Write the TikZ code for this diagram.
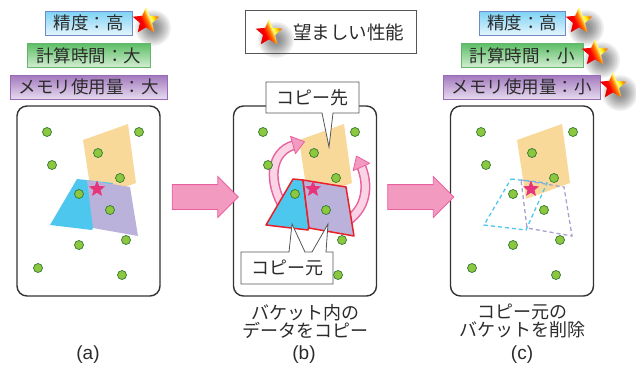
\documentclass[tikz,border=0pt]{standalone}
\usepackage{fontspec}
\setmainfont{Liberation Sans}
\newfontfamily\jp{Noto Sans CJK JP}
\usetikzlibrary{shapes.geometric,shapes.arrows,calc}
\definecolor{dotg}{HTML}{8DC63F}
\definecolor{dotd}{HTML}{2F7A32}
\definecolor{framec}{HTML}{333333}
\definecolor{orq}{HTML}{F8D99A}
\definecolor{blq}{HTML}{4EC7EF}
\definecolor{puq}{HTML}{BAB2DA}
\definecolor{pud}{HTML}{A99FD0}
\definecolor{starpk}{HTML}{E8347A}
\definecolor{redl}{HTML}{E8202A}
\definecolor{arrf}{HTML}{F39AC1}
\definecolor{arrd}{HTML}{E9609F}
\definecolor{arrl}{HTML}{FAD3E4}
\definecolor{callc}{HTML}{555555}
\definecolor{txt}{HTML}{2B2B2B}
\definecolor{bltop}{HTML}{7CD2F4}\definecolor{blbot}{HTML}{E4F5FC}\definecolor{blbd}{HTML}{7189C9}
\definecolor{grtop}{HTML}{5DBE66}\definecolor{grbot}{HTML}{D3EED2}\definecolor{grbd}{HTML}{63B66B}
\definecolor{prtop}{HTML}{A178BD}\definecolor{prbot}{HTML}{E7DAEF}\definecolor{prbd}{HTML}{9A6BB5}
\pgfdeclarehorizontalshading{starshade}{100bp}{color(0bp)=(red!85!black); color(25bp)=(red!85!black); color(42bp)=(red); color(52bp)=(orange); color(58bp)=(yellow!50!white); color(64bp)=(yellow!80!orange); color(70bp)=(orange); color(75bp)=(orange!85!red); color(100bp)=(orange!85!red)}
\begin{document}
\begin{tikzpicture}[x=1pt,y=-1pt,
  dot/.style={circle,fill=dotg,draw=dotd,line width=0.7pt,minimum size=9pt,inner sep=0pt},
  pstar/.style={star,star points=5,star point ratio=2.3,fill=starpk,minimum size=17pt,inner sep=0pt},
  gstar/.style={star,star points=5,star point ratio=2.2,shading=starshade,shading angle=25,minimum size=28pt,inner sep=0pt},
  panel/.style={draw=framec,line width=1.4pt,rounded corners=10pt,minimum width=143pt,minimum height=190pt,inner sep=0pt},
  lbox/.style={line width=0.8pt,minimum height=24pt,inner sep=0pt,font=\jp\fontsize{17.5}{20}\selectfont,text=txt},
  jtxt/.style={font=\jp\fontsize{18}{18}\selectfont,text=txt,inner sep=0pt,align=center},
  ltr/.style={font=\fontsize{19}{20}\selectfont,text=txt,inner sep=0pt},
  bigarr/.style={single arrow,fill=arrf,draw=arrd,line width=0.8pt,minimum height=66pt,single arrow head extend=8pt,inner xsep=0pt,inner ysep=12pt,single arrow tip angle=90},
  callout/.style={fill=white,draw=callc,line width=0.8pt,line join=miter},
  dsh/.style={line width=1.3pt,dash pattern=on 4pt off 3pt},
  redq/.style={draw=redl,line width=1.5pt,line join=round},
  carrout/.style={line width=10pt,draw=arrd},
  carrin/.style={line width=7pt,draw=arrl},
  carrhead/.style={fill=arrf,draw=arrd,line width=0.8pt,line join=round}
]
\useasboundingbox (0,0) rectangle (636,373);

% star shadows
\foreach \sx/\sy in {146/21, 269/33, 579/21, 595/53, 613/86} {
  \foreach \r in {18,16.5,...,4}
    \fill[black,opacity=0.055] (\sx+7,\sy+7) circle (\r);
}

% top labels (a)
\node[lbox,draw=blbd,top color=bltop,bottom color=blbot,minimum width=87pt] (acca) at (88.5,23) {精度：高};
\node[lbox,draw=grbd,top color=grtop,bottom color=grbot,minimum width=123pt] (tima) at (88.5,55.5) {計算時間：大};
\node[lbox,draw=prbd,top color=prtop,bottom color=prbot,minimum width=157pt] (mema) at (88.5,87) {メモリ使用量：大};
% top labels (c)
\node[lbox,draw=blbd,top color=bltop,bottom color=blbot,minimum width=86pt] (accc) at (522,23) {精度：高};
\node[lbox,draw=grbd,top color=grtop,bottom color=grbot,minimum width=122pt] (timc) at (522,55.5) {計算時間：小};
\node[lbox,draw=prbd,top color=prtop,bottom color=prbot,minimum width=157pt] (memc) at (521.5,87) {メモリ使用量：小};

% legend
\node[draw=callc,line width=0.8pt,minimum width=171pt,minimum height=43pt,inner sep=0pt] (legend) at (330.5,31.5) {};
\node[jtxt,anchor=west,font=\jp\fontsize{18.5}{20}\selectfont] (legtxt) at (293,32) {望ましい性能};

% gold stars
\foreach \sx/\sy/\nm in {146/21/gs1, 269/33/gs2, 579/21/gs3, 595/53/gs4, 613/86/gs5}
  \node[gstar] (\nm) at (\sx,\sy) {};

% panels
\node[panel] (pa) at (88.5,201) {};
\node[panel] (pb) at (305,201) {};
\node[panel] (pc) at (522,201) {};

% big arrows
\node[bigarr] (ab) at (199,197) {};
\node[bigarr] (bc) at (414.5,197) {};

% panel a
\fill[orq] (83,140) -- (128,124) -- (136,183) -- (92,199) -- cycle;
\fill[blq] (77,179) -- (113,183) -- (92,230) -- (50,225) -- cycle;
\fill[puq] (87,180) -- (130,187) -- (138,236) -- (93,228) -- cycle;
\node[pstar] (sa) at (97,189) {};

% panel b
\begin{scope}[shift={(216,0)}]
\fill[orq] (83,140) -- (128,124) -- (136,183) -- (92,199) -- cycle;
\draw[carrout] (68,208) .. controls (52,182) and (54,152) .. (78,145);
\draw[carrin] (68,208) .. controls (52,182) and (54,152) .. (78,145);
\filldraw[carrhead,shift={(77,145)},rotate=16] (0,-9) -- (12,0) -- (0,9) -- cycle;
\draw[carrout] (130,222) .. controls (156,205) and (150,177) .. (145,166);
\draw[carrin] (130,222) .. controls (156,205) and (150,177) .. (145,166);
\filldraw[carrhead,shift={(145.4,167)},rotate=114] (0,-9) -- (12,0) -- (0,9) -- cycle;
\filldraw[fill=blq,redq] (77,179) -- (87,180) -- (92.8,226) -- (92,230) -- (50,225) -- cycle;
\filldraw[fill=puq,redq] (87,180) -- (130,187) -- (138,236) -- (93,228) -- cycle;
\node[pstar] (sb) at (97,189) {};
\end{scope}

% panel c
\begin{scope}[shift={(434,0)}]
\fill[orq] (83,140) -- (128,124) -- (136,183) -- (92,199) -- cycle;
\draw[blq,dsh] (77,179) -- (113,183) -- (92,230) -- (50,225) -- cycle;
\draw[pud,dsh] (87,180) -- (130,187) -- (138,236) -- (93,228) -- cycle;
\node[pstar] (sc) at (97,189) {};
\end{scope}

% dots
\foreach \dx/\p in {0/a,216/b,434/c} {
  \foreach \x/\y [count=\i] in {47/132,139/132,52/165,98/153,120/178,79/194,110/210,126/240,79/245,38/268,122/275}
    \node[dot] (dot\p\i) at (\x+\dx,\y) {};
}

% callouts
\filldraw[callout] (266,82) -- (359,82) -- (359,113) -- (333,113) -- (329,147) -- (322,113) -- (266,113) -- cycle;
\node[jtxt] (dst) at (312,97.5) {コピー先};
\filldraw[callout] (241,252) -- (289,252) -- (292,224) -- (305,252) -- (312,252) -- (328,224) -- (326,252) -- (333,252) -- (333,284) -- (241,284) -- cycle;
\node[jtxt] (src) at (287,268) {コピー元};

% captions
\node[jtxt] (capb) at (305,321) {バケット内の\\データをコピー};
\node[jtxt] (capc) at (522,321) {コピー元の\\バケットを削除};
\node[ltr] (la) at (88,355) {(a)};
\node[ltr] (lb) at (304,355) {(b)};
\node[ltr] (lc) at (522,355) {(c)};
\end{tikzpicture}
\end{document}
